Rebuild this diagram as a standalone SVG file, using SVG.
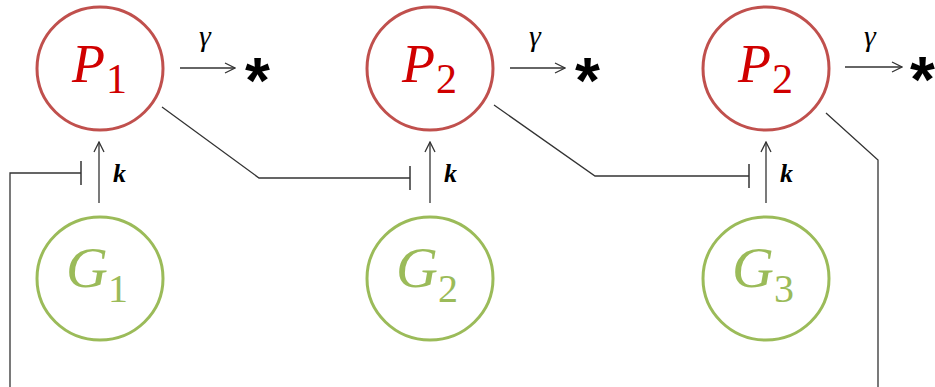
<svg xmlns="http://www.w3.org/2000/svg" width="935" height="387" viewBox="0 0 935 387">
<style>
.p{fill:none;stroke:#c0504d;stroke-width:3}
.g{fill:none;stroke:#9bbb59;stroke-width:3}
.pt{font-family:"Liberation Serif",serif;font-style:italic;font-size:54px;fill:#d00000}
.ps{font-family:"Liberation Serif",serif;font-size:42px;fill:#d00000}
.gt{font-family:"Liberation Serif",serif;font-style:italic;font-size:58px;fill:#9bbb59}
.gs{font-family:"Liberation Serif",serif;font-size:40px;fill:#9bbb59}
.c{fill:none;stroke:#333;stroke-width:1.3}
.k{font-family:"Liberation Serif",serif;font-style:italic;font-weight:bold;font-size:26px;fill:#000}
.gm{font-family:"Liberation Serif",serif;font-style:italic;font-size:30px;fill:#000}
.st{font-family:"Liberation Sans",sans-serif;font-weight:bold;font-size:64px;fill:#000}
</style>
<defs>
<marker id="arr" viewBox="0 0 12 12" refX="11" refY="6" markerWidth="12" markerHeight="12" markerUnits="userSpaceOnUse" orient="auto">
<path d="M1,1 L11,6 L1,11" fill="none" stroke="#333" stroke-width="1.3"/>
</marker>
<marker id="tee" viewBox="-2 -13 4 26" refX="0" refY="0" markerWidth="4" markerHeight="26" markerUnits="userSpaceOnUse" orient="auto">
<path d="M0,-12 L0,12" fill="none" stroke="#333" stroke-width="1.5"/>
</marker>
</defs>
<g id="P1"><ellipse class="p" cx="100" cy="68.5" rx="63" ry="61.5"/><text class="pt" x="72" y="82">P</text><text class="ps" x="106" y="93">1</text></g>
<g id="P2"><ellipse class="p" cx="430" cy="68.5" rx="63" ry="61.5"/><text class="pt" x="402" y="82">P</text><text class="ps" x="436" y="93">2</text></g>
<g id="P3"><ellipse class="p" cx="766" cy="68.5" rx="63" ry="61.5"/><text class="pt" x="738" y="82">P</text><text class="ps" x="772" y="93">2</text></g>
<g id="G1"><ellipse class="g" cx="100" cy="278.5" rx="63" ry="61.5"/><text class="gt" x="66" y="287">G</text><text class="gs" x="108" y="302">1</text></g>
<g id="G2"><ellipse class="g" cx="430" cy="278.5" rx="63" ry="61.5"/><text class="gt" x="396" y="287">G</text><text class="gs" x="438" y="302">2</text></g>
<g id="G3"><ellipse class="g" cx="766" cy="278.5" rx="63" ry="61.5"/><text class="gt" x="732" y="287">G</text><text class="gs" x="774" y="302">3</text></g>
<g id="sinks">
<text class="st" x="245" y="103">*</text>
<text class="st" x="575" y="103">*</text>
<text class="st" x="910" y="102">*</text>
</g>
<g id="connectors">
<line class="c" x1="99" y1="203" x2="99" y2="142" marker-end="url(#arr)"/>
<line class="c" x1="430" y1="203" x2="430" y2="142" marker-end="url(#arr)"/>
<line class="c" x1="766" y1="203" x2="766" y2="142" marker-end="url(#arr)"/>
<line class="c" x1="180" y1="68" x2="235" y2="68" marker-end="url(#arr)"/>
<line class="c" x1="510" y1="68" x2="565" y2="68" marker-end="url(#arr)"/>
<line class="c" x1="845" y1="67" x2="902" y2="67" marker-end="url(#arr)"/>
<polyline class="c" points="162,107 259,178 410,178" marker-end="url(#tee)"/>
<polyline class="c" points="494,105 595,176 749,176" marker-end="url(#tee)"/>
<polyline class="c" points="826,113 878,160 878,387"/>
<polyline class="c" points="10,387 10,173 81,173" marker-end="url(#tee)"/>
<text class="k" x="113" y="182">k</text>
<text class="k" x="444" y="182">k</text>
<text class="k" x="780" y="182">k</text>
<text class="gm" x="199" y="46">γ</text>
<text class="gm" x="529" y="46">γ</text>
<text class="gm" x="864" y="46">γ</text>
</g>
</svg>
